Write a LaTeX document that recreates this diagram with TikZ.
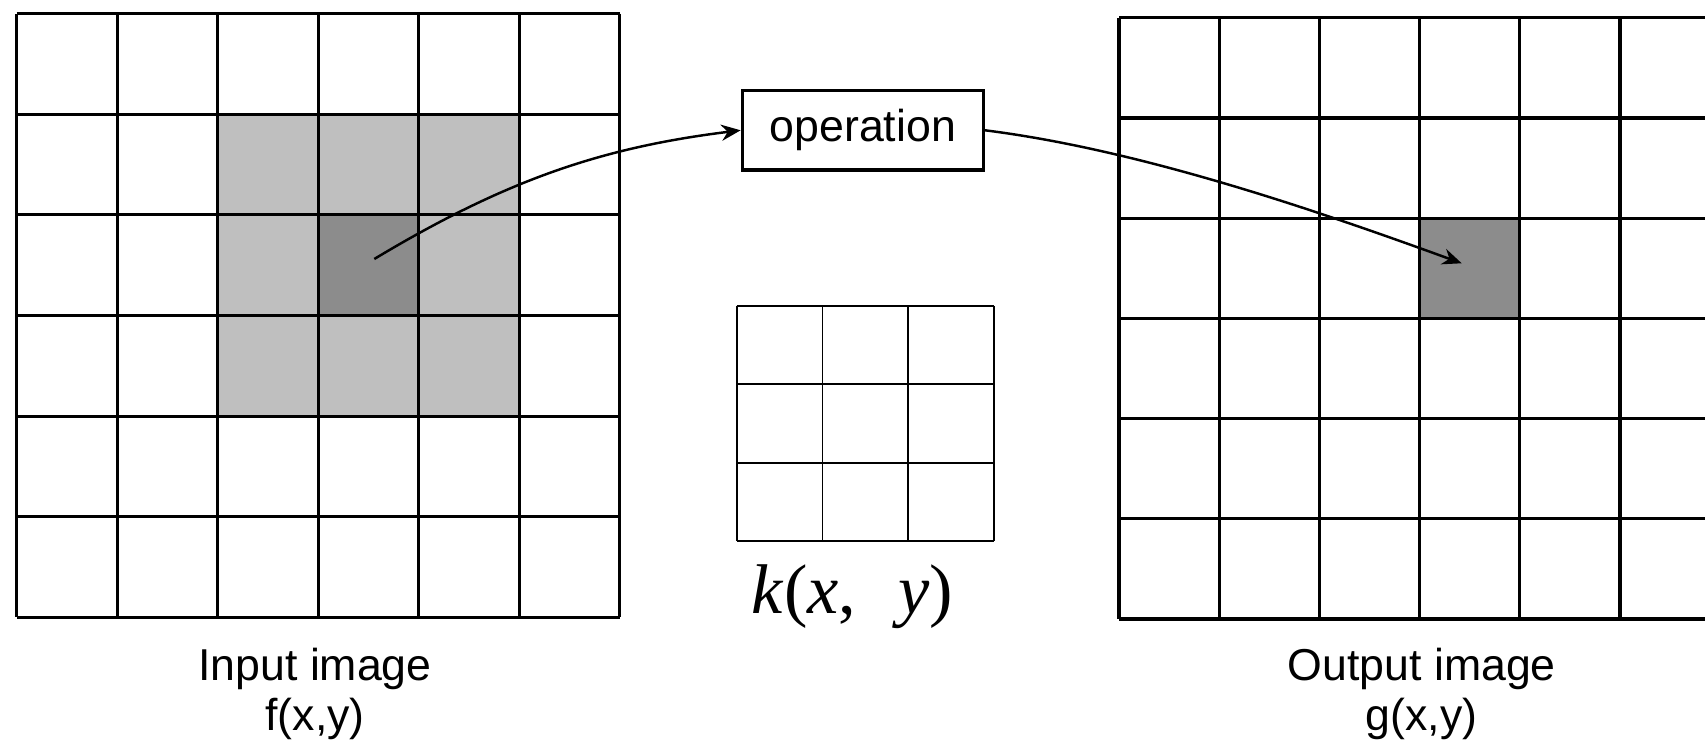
\documentclass[tikz,border=0pt]{standalone}
\usepackage{fontspec}
\setmainfont{Liberation Sans}
\newfontfamily\kfont{Liberation Serif}
\usepackage{xcolor}
\usepackage{tikz}
\usetikzlibrary{arrows.meta}

\definecolor{lightcell}{gray}{0.75}
\definecolor{darkcell}{gray}{0.55}

\tikzset{
  gridline/.style={line width=0.9pt},
  kernline/.style={line width=0.55pt},
  flow/.style={-{Stealth[length=5.5pt,width=4.6pt]}, line width=0.7pt},
  caption/.style={align=center, font=\fontsize{12.7}{14.2}\selectfont}
}

\begin{document}
\begin{tikzpicture}[x=0.01cm,y=-0.01cm]
  \useasboundingbox (0,0) rectangle (1705,746);
  \clip (0,0) rectangle (1705,746);

  % input image f(x,y)
  \fill[lightcell] (217.6,114.3) rectangle (519.1,416.1);
  \node at (368.3,265.2) [rectangle, minimum width=1.005cm, minimum height=1.005cm, inner sep=0pt, fill=darkcell] (incell) {};
  \foreach \i in {0,...,6} {
    \draw[gridline] (16.6+100.5*\i,13.7) -- (16.6+100.5*\i,617.3);
    \draw[gridline] (16.6,13.7+100.6*\i) -- (619.6,13.7+100.6*\i);
  }
  \coordinate (pin) at (374.3,259);

  % output image g(x,y)
  \node at (1469.2,267.2) [rectangle, minimum width=1cm, minimum height=1cm, inner sep=0pt, fill=darkcell] (outcell) {};
  \foreach \i in {0,...,6} {
    \draw[gridline] (1119+100.2*\i,17.8) -- (1119+100.2*\i,619);
    \draw[gridline] (1119,17.8+100.2*\i) -- (1725,17.8+100.2*\i);
  }
  \coordinate (pout) at (1461.7,263.3);

  % kernel k(x,y)
  \foreach \i in {0,...,3} {
    \draw[kernline] (736.7+85.77*\i,306) -- (736.7+85.77*\i,541);
    \draw[kernline] (736.7,306+78.33*\i) -- (994,306+78.33*\i);
  }

  \node at (862.8,130.3) [rectangle, draw, line width=0.9pt, minimum width=2.41cm, minimum height=0.793cm, inner sep=0pt, font=\fontsize{12.7}{14}\selectfont] (op) {operation};

  \node at (852.5,613.3) [anchor=base, inner sep=0pt, font=\kfont\fontsize{20}{23}\selectfont] (klabel) {\textit{k}(\textit{x},\hspace{0.6em}\textit{y})};
  \node at (315,694) [caption] (inlabel) {Input image\\f(x,y)};
  \node at (1421.7,694) [caption] (outlabel) {Output image\\g(x,y)};

  \draw (pin)[flow] .. controls (507.1,179.2) and (603.3,147.3) .. (op.west);
  \draw (op.east)[flow] .. controls (1142,150) and (1320.7,212) .. (pout);
\end{tikzpicture}
\end{document}
